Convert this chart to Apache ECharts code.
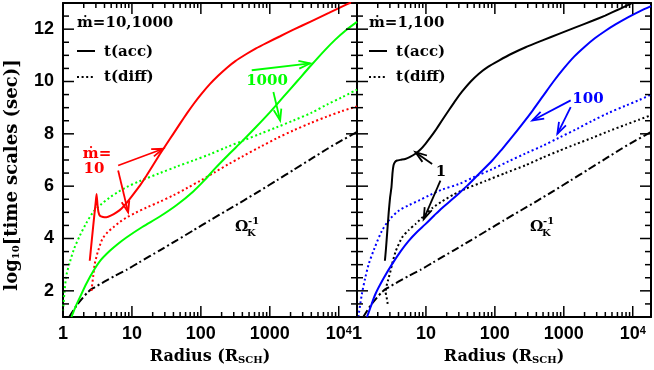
<!DOCTYPE html>
<html><head><meta charset="utf-8">
<script src="https://cdn.jsdelivr.net/npm/echarts/dist/echarts.min.js"></script>
<style>html,body{margin:0;padding:0;background:#fff}#c{width:654px;height:370px}</style>
</head><body><div id="c"></div>
<script>
// ---------------- data: [log10 R (R_sch), log10 t (s)] ----------------
const xTickValues = [0, 1, 2, 3, 4];
const xTickLabels = ['1', '10', '100', '1000', '10{s|4}'];
const yTickValues = [2, 4, 6, 8, 10, 12];
const yTickLabels = ['2', '4', '6', '8', '10', '12'];

const omegaK = [[0.09,1.0],[0.2,1.45],[0.29,1.74],[0.36,1.95],[0.436,2.1],[0.6,2.35],[0.75,2.57],[0.92,2.8],[1.1,3.08],[1.405,3.55],[1.65,3.93],[1.89,4.31],[2.13,4.69],[2.375,5.07],[2.62,5.45],[2.86,5.83],[3.1,6.22],[3.343,6.62],[3.6,7.04],[3.83,7.42],[4.05,7.76],[4.265,8.07]];

// left panel: mdot = 10 (red), 1000 (green)
const red_tacc = [[0.388,3.15],[0.42,4.0],[0.455,4.9],[0.475,5.4],[0.487,5.7],[0.5,5.3],[0.515,5.0],[0.535,4.87],[0.58,4.82],[0.63,4.81],[0.7,4.88],[0.776,5.0],[0.85,5.15],[0.92,5.35],[1.0,5.62],[1.115,6.02],[1.21,6.4],[1.31,6.82],[1.4,7.2],[1.5,7.6],[1.6,8.0],[1.7,8.4],[1.8,8.79],[1.9,9.16],[2.0,9.5],[2.13,9.9],[2.25,10.22],[2.375,10.52],[2.5,10.78],[2.666,11.06],[2.8,11.27],[2.956,11.48],[3.15,11.73],[3.343,11.98],[3.6,12.3],[3.857,12.62],[4.1,12.93],[4.265,13.12]];
const red_tdiff = [[0.413,2.0],[0.44,2.6],[0.46,3.02],[0.49,3.35],[0.51,3.53],[0.55,3.85],[0.58,4.02],[0.65,4.25],[0.727,4.42],[0.82,4.62],[0.92,4.8],[1.05,4.98],[1.21,5.18],[1.4,5.4],[1.6,5.65],[1.8,5.93],[2.0,6.22],[2.2,6.53],[2.4,6.84],[2.6,7.13],[2.86,7.5],[3.1,7.83],[3.343,8.13],[3.6,8.42],[3.83,8.66],[4.05,8.87],[4.265,9.05]];
const green_tacc = [[0.122,1.0],[0.18,1.38],[0.243,1.74],[0.34,2.28],[0.436,2.74],[0.55,3.18],[0.68,3.53],[0.8,3.8],[0.92,4.04],[1.15,4.44],[1.405,4.84],[1.65,5.28],[1.89,5.8],[2.05,6.22],[2.2,6.66],[2.4,7.2],[2.6,7.72],[2.8,8.26],[3.0,8.82],[3.2,9.42],[3.4,10.02],[3.6,10.62],[3.8,11.2],[3.95,11.6],[4.1,11.95],[4.265,12.28]];
const green_tdiff = [[0.0,1.23],[0.02,1.9],[0.05,2.6],[0.1,3.1],[0.16,3.6],[0.243,4.1],[0.33,4.55],[0.436,5.0],[0.55,5.3],[0.68,5.57],[0.8,5.78],[0.92,5.96],[1.1,6.18],[1.405,6.5],[1.65,6.75],[1.89,6.98],[2.13,7.22],[2.375,7.49],[2.62,7.75],[2.86,8.0],[3.1,8.25],[3.343,8.51],[3.6,8.8],[3.83,9.12],[4.05,9.4],[4.265,9.69]];

// right panel: mdot = 1 (black), 100 (blue)
const black_tacc = [[0.405,3.15],[0.42,3.6],[0.44,4.3],[0.46,5.0],[0.48,5.57],[0.5,5.96],[0.515,6.5],[0.53,6.8],[0.55,6.92],[0.58,6.98],[0.64,7.01],[0.7,7.04],[0.77,7.12],[0.847,7.24],[0.92,7.4],[0.993,7.62],[1.07,7.88],[1.138,8.13],[1.23,8.5],[1.332,8.9],[1.43,9.28],[1.526,9.62],[1.65,10.0],[1.768,10.3],[1.9,10.56],[2.058,10.8],[2.25,11.07],[2.446,11.31],[2.7,11.58],[2.93,11.82],[3.17,12.07],[3.416,12.32],[3.6,12.52],[3.8,12.76],[3.95,12.95],[4.1,13.15]];
const black_tdiff = [[0.445,1.5],[0.43,1.75],[0.415,1.95],[0.43,2.2],[0.46,2.5],[0.49,2.8],[0.509,3.02],[0.56,3.5],[0.654,4.04],[0.75,4.32],[0.847,4.55],[0.993,4.92],[1.1,5.18],[1.235,5.42],[1.4,5.68],[1.574,5.9],[1.865,6.2],[2.15,6.5],[2.446,6.8],[2.7,7.1],[2.93,7.35],[3.17,7.6],[3.416,7.85],[3.65,8.1],[3.9,8.35],[4.1,8.55],[4.265,8.71]];
const blue_tacc = [[0.145,1.0],[0.2,1.4],[0.266,1.87],[0.38,2.45],[0.509,3.02],[0.63,3.5],[0.75,3.91],[0.87,4.25],[0.993,4.55],[1.12,4.88],[1.235,5.17],[1.36,5.45],[1.477,5.72],[1.6,6.02],[1.75,6.42],[1.962,6.98],[2.1,7.4],[2.25,7.88],[2.4,8.38],[2.55,8.9],[2.7,9.45],[2.85,10.0],[3.0,10.5],[3.15,10.95],[3.3,11.32],[3.45,11.65],[3.6,11.93],[3.75,12.18],[3.93,12.45],[4.1,12.68],[4.265,12.88]];
const blue_tdiff = [[0.02,1.0],[0.07,1.87],[0.12,2.5],[0.17,3.02],[0.25,3.6],[0.363,4.3],[0.48,4.75],[0.605,5.06],[0.75,5.27],[0.895,5.45],[1.05,5.65],[1.235,5.87],[1.477,6.08],[1.7,6.35],[1.962,6.65],[2.2,6.95],[2.446,7.25],[2.7,7.55],[2.93,7.85],[3.2,8.2],[3.416,8.5],[3.65,8.8],[3.9,9.08],[4.1,9.3],[4.265,9.5]];

// ---------------- layout / helpers ----------------
const XMAX = 4.265, YMIN = 1, YMAX = 13;
const SERIF = '"DejaVu Serif"';
const SANS = '"Liberation Sans"';
const TICK_COLOR = '#000000';

const xMinor = [];
for (let d = 0; d <= 4; d++) for (let k = 2; k <= 9; k++) {
  const v = d + Math.log10(k);
  if (v < XMAX) xMinor.push(v);
}
const yMinor = [];
for (let v = YMIN; v <= YMAX; v += 0.5) if (yTickValues.indexOf(v) < 0) yMinor.push(v);

const grids = [
  { left: 63, top: 3, width: 294, height: 314, containLabel: false, outerBoundsMode: 'none' },
  { left: 357, top: 3, width: 294, height: 314, containLabel: false, outerBoundsMode: 'none' }
];

function xAx(gridIndex, position, labels) {
  return {
    type: 'value', gridIndex, position, min: 0, max: XMAX,
    axisLine: { show: true, onZero: false, lineStyle: { color: '#000', width: 2 } },
    axisTick: { show: false },
    axisLabel: labels ? {
      show: true, customValues: xTickValues, margin: 8, color: '#000',
      fontFamily: SANS, fontWeight: 'bold', fontSize: 18,
      formatter: v => { const i = xTickValues.indexOf(Math.round(v)); return i < 0 ? '' : xTickLabels[i]; },
      rich: { s: { fontSize: 11, fontFamily: SANS, fontWeight: 'bold', color: '#000', verticalAlign: 'top' } }
    } : { show: false },
    splitLine: { show: false }
  };
}
function yAx(gridIndex, position, labels) {
  return {
    type: 'value', gridIndex, position, min: YMIN, max: YMAX,
    axisLine: { show: true, onZero: false, lineStyle: { color: '#000', width: 2 } },
    axisTick: { show: false },
    axisLabel: labels ? {
      show: true, customValues: yTickValues, margin: 9, color: '#000',
      fontFamily: SANS, fontWeight: 'bold', fontSize: 18,
      formatter: v => { const i = yTickValues.indexOf(Math.round(v)); return i < 0 ? '' : yTickLabels[i]; }
    } : { show: false },
    splitLine: { show: false }
  };
}

const xAxes = [xAx(0, 'bottom', true), xAx(0, 'top', false), xAx(1, 'bottom', true), xAx(1, 'top', false)];
const yAxes = [yAx(0, 'left', true), yAx(0, 'right', false), yAx(1, 'left', false), yAx(1, 'right', false)];

const DOT = [2, 2.6], DASHDOT = [8, 3, 2, 3];
function curve(panel, data, color, type, smooth) {
  return {
    type: 'line', xAxisIndex: panel === 0 ? 0 : 2, yAxisIndex: panel === 0 ? 0 : 2,
    data, showSymbol: false, symbol: 'none', smooth: smooth, clip: true,
    lineStyle: { color, width: 2, type, cap: 'butt' }, z: 3, silent: true
  };
}

function arrowRender(params, api) {
  const p1 = api.coord([api.value(0), api.value(1)]);
  const p2 = api.coord([api.value(2), api.value(3)]);
  const ang = Math.atan2(p2[1] - p1[1], p2[0] - p1[0]);
  const L = 12, a = 0.33;
  const h1 = [p2[0] - L * Math.cos(ang - a), p2[1] - L * Math.sin(ang - a)];
  const h2 = [p2[0] - L * Math.cos(ang + a), p2[1] - L * Math.sin(ang + a)];
  const c = api.visual('color');
  return { type: 'group', children: [
    { type: 'polyline', shape: { points: [p1, p2] }, style: { stroke: c, lineWidth: 1.8, fill: null } },
    { type: 'polyline', shape: { points: [h1, p2, h2] }, style: { stroke: c, lineWidth: 1.8, fill: null } }
  ] };
}
function arrows(panel, color, list) {
  return {
    type: 'custom', xAxisIndex: panel === 0 ? 0 : 2, yAxisIndex: panel === 0 ? 0 : 2,
    renderItem: arrowRender, data: list, itemStyle: { color }, z: 5, silent: true, clip: false,
    encode: { x: [0, 2], y: [1, 3] }
  };
}

// tick marks: anchor (x, y) on the frame; inward direction/length kept aside by index
const tickAnchors = [], tickDirs = [];
function addTick(x, y, dx, dy) { tickAnchors.push([x, y]); tickDirs.push([dx, dy]); }
xTickValues.forEach(v => { addTick(v, YMIN, 0, -11); addTick(v, YMAX, 0, 11); });
xMinor.forEach(v => { addTick(v, YMIN, 0, -5); addTick(v, YMAX, 0, 5); });
yTickValues.forEach(v => { addTick(0, v, 11, 0); addTick(XMAX, v, -11, 0); });
yMinor.forEach(v => { addTick(0, v, 6, 0); addTick(XMAX, v, -6, 0); });
function tickRender(params, api) {
  const p = api.coord([api.value(0), api.value(1)]);
  const d = tickDirs[params.dataIndex];
  return { type: 'polyline', shape: { points: [[p[0], p[1]], [p[0] + d[0], p[1] + d[1]]] },
    style: { stroke: api.visual('color'), lineWidth: 1.5, fill: null } };
}
function ticks(panel) {
  return {
    type: 'custom', xAxisIndex: panel === 0 ? 0 : 2, yAxisIndex: panel === 0 ? 0 : 2,
    renderItem: tickRender, data: tickAnchors, itemStyle: { color: TICK_COLOR }, z: 6, silent: true, clip: false,
    encode: { x: 0, y: 1 }
  };
}

function txt(x, y, text, color, size, align, extra) {
  return { type: 'text', x, y, silent: true, z: 10, style: Object.assign({
    text, fill: color, font: 'bold ' + size + 'px ' + SERIF,
    textAlign: align || 'left', textVerticalAlign: 'middle'
  }, extra || {}) };
}
function legendBlock(x0, title) {
  return [
    txt(x0, 23, title, '#000', 15),
    { type: 'line', shape: { x1: x0, y1: 51, x2: x0 + 18, y2: 51 }, style: { stroke: '#000', lineWidth: 2 }, z: 10 },
    txt(x0 + 27, 52, 't(acc)', '#000', 15),
    { type: 'line', shape: { x1: x0, y1: 77, x2: x0 + 18, y2: 77 }, style: { stroke: '#000', lineWidth: 2, lineDash: DOT }, z: 10 },
    txt(x0 + 27, 77, 't(diff)', '#000', 15)
  ];
}
function omegaLabel(x0) {
  return [
    txt(x0, 227, 'Ω', '#000', 15),
    txt(x0 + 13, 221, '-1', '#000', 10),
    txt(x0 + 12, 233, 'K', '#000', 10)
  ];
}
const subRich = { s: { font: 'bold 10px ' + SERIF, fill: '#000', verticalAlign: 'bottom' } };

const graphics = [].concat(
  legendBlock(77, 'ṁ=10,1000'),
  legendBlock(369, 'ṁ=1,100'),
  omegaLabel(235), omegaLabel(530),
  [
    txt(97, 154, 'ṁ=', '#ff0000', 15, 'center'),
    txt(94, 169, '10', '#ff0000', 15, 'center'),
    txt(267, 81, '1000', '#00ff00', 15, 'center'),
    txt(588, 99, '100', '#0000ff', 15, 'center'),
    txt(441, 172, '1', '#000', 15, 'center'),
    txt(210, 357, 'Radius (R{s|SCH})', '#000', 16, 'center', { rich: subRich }),
    txt(504, 357, 'Radius (R{s|SCH})', '#000', 16, 'center', { rich: subRich }),
    Object.assign(txt(12, 175, 'log{s|10}[time scales (sec)]', '#000', 18, 'center', { rich: subRich }), { rotation: Math.PI / 2 })
  ]
);

const option = {
  animation: false,
  backgroundColor: '#fff',
  grid: grids,
  xAxis: xAxes,
  yAxis: yAxes,
  series: [
    ticks(0), ticks(1),
    curve(0, omegaK, '#000', DASHDOT, 0.2),
    curve(0, red_tdiff, '#ff0000', DOT, 0.3),
    curve(0, green_tdiff, '#00ff00', DOT, 0.3),
    curve(0, green_tacc, '#00ff00', 'solid', 0.3),
    curve(0, red_tacc, '#ff0000', 'solid', 0.15),
    curve(1, omegaK, '#000', DASHDOT, 0.2),
    curve(1, black_tdiff, '#000', DOT, 0.2),
    curve(1, blue_tdiff, '#0000ff', DOT, 0.3),
    curve(1, blue_tacc, '#0000ff', 'solid', 0.3),
    curve(1, black_tacc, '#000', 'solid', 0.15),
    arrows(0, '#ff0000', [[0.80, 6.79, 1.453, 7.43], [0.80, 6.60, 0.945, 5.0]]),
    arrows(0, '#00ff00', [[2.738, 10.43, 3.585, 10.69], [3.052, 9.60, 3.15, 8.51]]),
    arrows(1, '#000', [[1.09, 6.85, 0.847, 7.30], [1.21, 6.21, 0.968, 4.74]]),
    arrows(1, '#0000ff', [[3.10, 9.28, 2.544, 8.51], [3.10, 9.02, 2.907, 8.0]])
  ],
  graphic: graphics
};

const chart = echarts.init(document.getElementById('c'), null, { renderer: 'canvas' });
chart.setOption(option);
</script>
</body></html>
